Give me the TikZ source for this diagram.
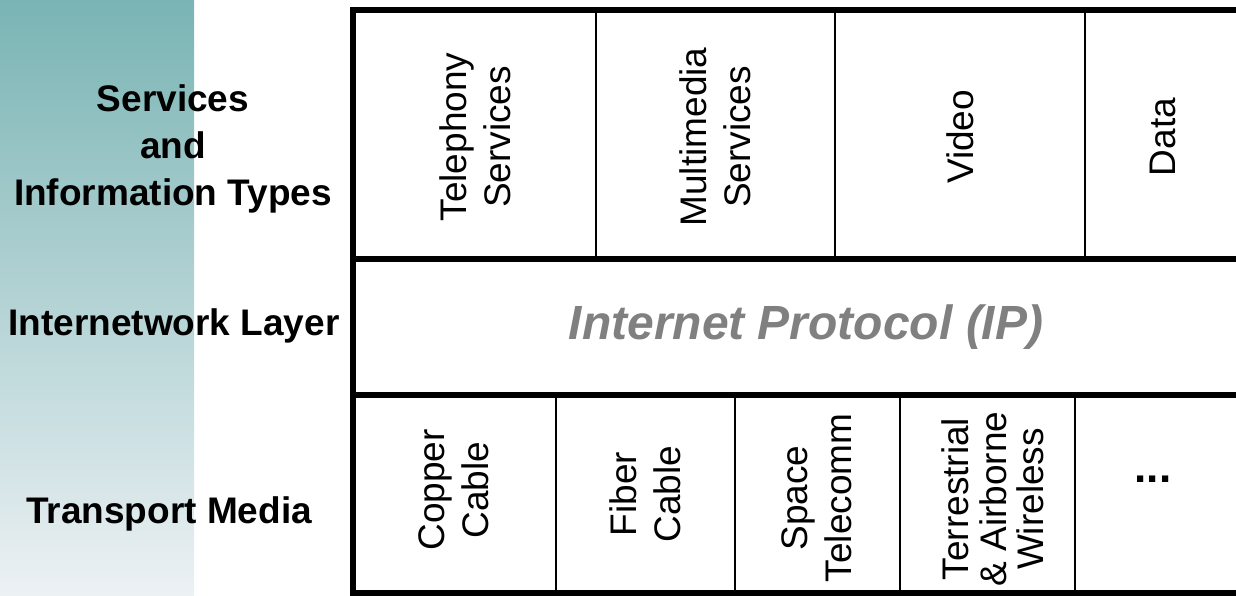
\documentclass[tikz,border=0pt]{standalone}
\usepackage{fontspec}
\setmainfont{Liberation Sans}
\usepackage{xcolor}
\usepackage{tikz}
\usetikzlibrary{positioning}
\definecolor{bartop}{RGB}{122,180,180}
\definecolor{barbot}{RGB}{236,241,244}
\definecolor{ipgray}{RGB}{128,128,128}

\begin{document}
\begin{tikzpicture}[x=0.5pt,y=-0.5pt,
  rowlabel/.style={font=\bfseries\fontsize{18.5}{23.5}\selectfont,align=center},
  cell/.style={font=\fontsize{18.5}{22}\selectfont,align=center,rotate=90},
  frame/.style={line width=2.6pt},
  divider/.style={line width=1.4pt}]
  \useasboundingbox (0,0) rectangle (1236,595);
  % shaded side bar
  \shade[top color=bartop,bottom color=barbot] (0,0) rectangle (194,595);
  % layer grid
  \draw[frame] (1245,10) -- (353,10) -- (353,593) -- (1245,593);
  \draw[frame] (353,259) -- (1245,259);
  \draw[frame] (353,395) -- (1245,395);
  \foreach \x in {596,835,1085} \draw[divider] (\x,10) -- (\x,259);
  \foreach \x in {556,735,900,1075} \draw[divider] (\x,395) -- (\x,593);
  % row labels
  \node[rowlabel] (svc) at (173,149) {Services\\and\\Information Types};
  \node[rowlabel,anchor=base] (inet) at (174,335) {Internetwork Layer};
  \node[rowlabel,anchor=base] (media) at (169,523) {Transport Media};
  % services and information types
  \foreach \x/\n/\t in {475/tel/{Telephony\\Services},715/mm/{Multimedia\\Services},960/vid/Video,1163/dat/Data}
    \node[cell] (\n) at (\x,137) {\t};
  % internetwork layer
  \node[font=\bfseries\itshape\fontsize{24}{28}\selectfont,text=ipgray] (ip) at (806,327) {Internet Protocol (IP)};
  % transport media
  \foreach \x/\y/\n/\t in {454/490/cu/{Copper\\Cable},645/494/fib/{Fiber\\Cable},817/498/sat/{Space\\Telecomm}}
    \node[cell] (\n) at (\x,\y) {\t};
  \node[cell,font=\fontsize{18.5}{18.8}\selectfont] (wls) at (993,499) {Terrestrial\\\& Airborne\\Wireless};
  \node[font=\bfseries\fontsize{22}{26}\selectfont,anchor=base] (more) at (1153,482) {...};
\end{tikzpicture}
\end{document}
